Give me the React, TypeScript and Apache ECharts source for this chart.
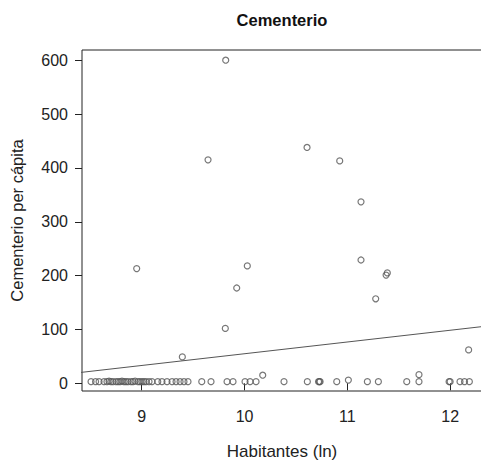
import React, { useEffect, useRef } from "react";
import * as echarts from "echarts";

// Habitantes (ln) and Cementerio per cápita
const habitantes: number[] = [
  9.817, 9.645, 10.608, 10.926, 11.133, 8.951, 10.027, 9.924, 11.133, 11.389,
  11.377, 11.276, 9.813, 12.18, 9.395, 10.177, 11.697, 11.01,
  8.507, 8.551, 8.585, 8.633, 8.662, 8.682, 8.701, 8.721, 8.75, 8.77,
  8.789, 8.808, 8.828, 8.847, 8.867, 8.896, 8.915, 8.935, 8.964, 8.983,
  9.003, 9.022, 9.042, 9.071, 9.1, 9.156, 9.197, 9.246, 9.295, 9.334,
  9.373, 9.411, 9.45, 9.584, 9.674, 9.83, 9.888, 10.005, 10.054, 10.112,
  10.384, 10.611, 10.72, 10.728, 10.735, 10.897, 11.195, 11.302, 11.578, 11.697,
  11.99, 12.0, 12.096, 12.14, 12.187,
];
const cementerio: number[] = [
  600, 415, 438, 413, 337, 213, 218, 177, 229, 205,
  201, 157, 102, 62, 49, 15, 16, 6,
  3, 3, 3, 3, 3, 4, 3, 3, 3, 3,
  3, 4, 3, 3, 3, 3, 3, 4, 3, 3,
  3, 3, 3, 3, 3, 3, 3, 3, 3, 3,
  3, 3, 3, 3, 3, 3, 3, 3, 3, 3,
  3, 3, 3, 3, 3, 3, 3, 3, 3, 3,
  3, 3, 3, 3, 3,
];

// Fitted regression line (intercept, slope) and its x span
const regIntercept = -163.1;
const regSlope = 21.8;
const regX: number[] = [8.3, 12.6];

const xTicks: number[] = [9, 10, 11, 12];
const yTicks: number[] = [0, 100, 200, 300, 400, 500, 600];

const FONT = "Liberation Sans";

export default function App() {
  const ref = useRef<HTMLDivElement | null>(null);

  useEffect(() => {
    if (!ref.current) return;
    const chart = echarts.init(ref.current, null, { renderer: "svg" });
    const points = habitantes.map((x, i) => [x, cementerio[i]]);
    const line = regX.map((x) => [x, regIntercept + regSlope * x]);

    chart.setOption({
      animation: false,
      backgroundColor: "#ffffff",
      textStyle: { fontFamily: FONT },
      grid: {
        left: 82,
        top: 50,
        right: -1,
        bottom: 70,
        outerBoundsMode: "none",
        containLabel: false,
        show: true,
        borderColor: "#222222",
        borderWidth: 1,
        backgroundColor: "transparent",
      },
      graphic: [
        {
          type: "text",
          x: 282,
          y: 20,
          style: {
            text: "Cementerio",
            fontFamily: FONT,
            fontSize: 16.5,
            fontWeight: "bold",
            fill: "#111111",
            textAlign: "center",
            textVerticalAlign: "middle",
          },
        },
      ],
      xAxis: {
        type: "value",
        min: 8.419,
        max: 12.31,
        name: "Habitantes (ln)",
        nameLocation: "middle",
        nameGap: 52,
        nameTextStyle: { fontFamily: FONT, fontSize: 17, color: "#222222" },
        axisLine: { show: false },
        splitLine: { show: false },
        axisTick: {
          show: true,
          length: 7,
          customValues: xTicks,
          lineStyle: { color: "#222222", width: 1 },
        },
        axisLabel: {
          customValues: xTicks,
          margin: 17,
          fontFamily: FONT,
          fontSize: 16,
          color: "#222222",
        },
      },
      yAxis: {
        type: "value",
        min: -14.3,
        max: 619,
        name: "Cementerio per cápita",
        nameLocation: "middle",
        nameGap: 57,
        nameTextStyle: { fontFamily: FONT, fontSize: 16.5, color: "#222222" },
        axisLine: { show: false },
        splitLine: { show: false },
        axisTick: {
          show: true,
          length: 7,
          customValues: yTicks,
          lineStyle: { color: "#222222", width: 1 },
        },
        axisLabel: {
          customValues: yTicks,
          margin: 14,
          fontFamily: FONT,
          fontSize: 16,
          color: "#222222",
        },
      },
      series: [
        {
          type: "line",
          data: line,
          symbol: "none",
          clip: true,
          lineStyle: { color: "#555555", width: 1 },
          silent: true,
        },
        {
          type: "scatter",
          data: points,
          symbol: "circle",
          symbolSize: 6,
          clip: true,
          itemStyle: {
            color: "rgba(0,0,0,0)",
            borderColor: "#555555",
            borderWidth: 1.2,
          },
        },
      ],
    });
    return () => chart.dispose();
  }, []);

  return (
    <div
      ref={ref}
      style={{ position: "absolute", left: 0, top: 0, width: 481, height: 461 }}
    />
  );
}
